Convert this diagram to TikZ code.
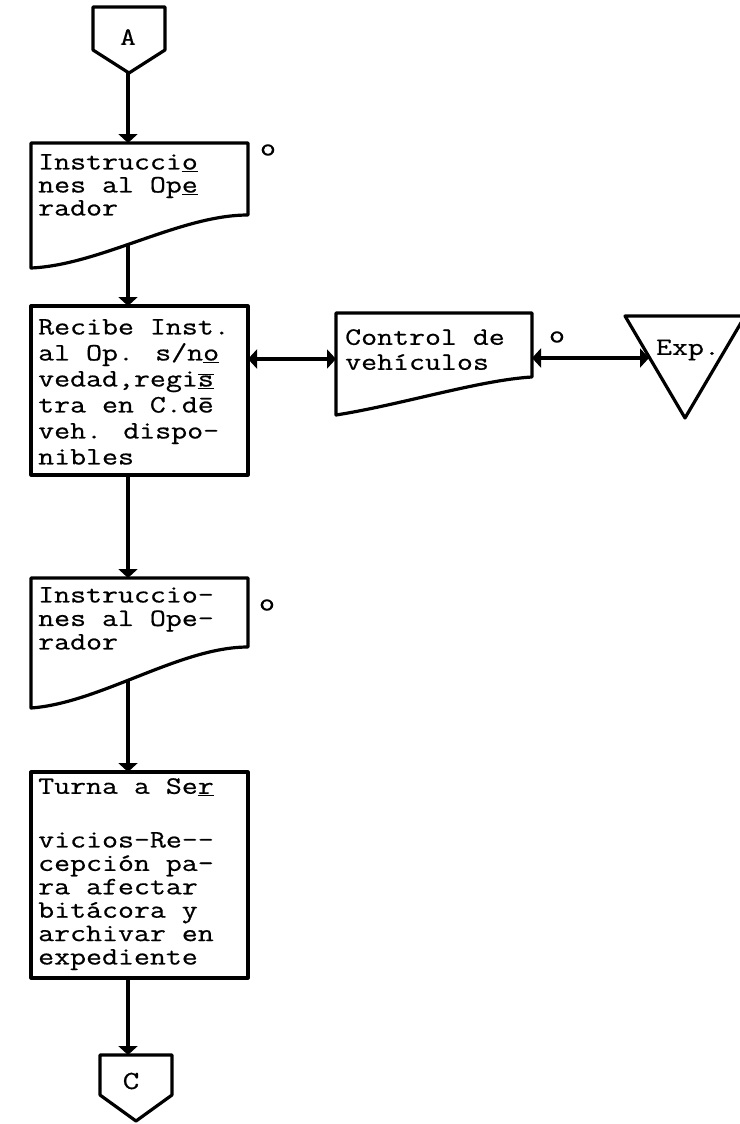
\documentclass[tikz,border=0pt]{standalone}
\usepackage{fontspec}
\newfontfamily\twfont{Latin Modern Mono}[FakeStretch=1.24,FakeBold=0.6]
\usetikzlibrary{arrows.meta}
\newcommand\uln[1]{\underline{#1}}
\newcommand\twsize[2]{\twfont\fontsize{#1}{#2}\selectfont\lineskiplimit=-100pt\relax}
\begin{document}
\begin{tikzpicture}[x=1pt,y=-1pt,
 outline/.style={draw=black, line width=3.2pt, line join=round},
 conn/.style={line width=3.2pt, -{Triangle[width=19pt,length=9pt]}},
 bicon/.style={line width=3.2pt, {Triangle[width=19pt,length=9pt]}-{Triangle[width=19pt,length=9pt]}},
 body/.style={anchor=north west, inner sep=0pt, align=left, font=\twsize{25}{23}},
 note/.style={inner sep=0pt, font=\twsize{25}{25}}]
\useasboundingbox (0,0) rectangle (739,1124);

% connector A
\draw[outline] (93,7) -- (165,7) -- (165,50) -- (129,73) -- (93,50) -- cycle;
\node[note] (lA) at (128,37) {A};
\coordinate (Aout) at (128,73);

% box 1
\draw[outline] (31,143) -- (248,143) -- (248,215) .. controls (180,215) and (100,265) .. (31,268) -- cycle;
\node[body] (t1) at (38,154) {Instrucci\uln{o}\\nes al Op\uln{e}\\rador};
\node[note] (o1) at (268,150) {o};
\coordinate (b1in) at (128,143);
\coordinate (b1out) at (128,244);

% box 2
\draw[outline] (31,306) rectangle (248,475);
\node[body, font=\twsize{25}{26}] (t2) at (38,319) {Recibe Inst.\\al Op. s/n\uln{o}\\vedad,regi\uln{$\overline{\hbox{s}}$}\\tra en C.d\={e}\\veh. dispo-\\nibles};
\coordinate (b2in) at (128,306);
\coordinate (b2out) at (128,475);
\coordinate (b2r) at (248,359);

% control de vehiculos
\draw[outline] (336,313) -- (532,313) -- (532,377) .. controls (480,380) and (400,405) .. (336,415) -- cycle;
\node[body, font=\twsize{25}{25}] (tc) at (345,329) {Control de\\vehículos};
\node[note] (oc) at (557,337) {o};
\coordinate (cl) at (336,359);
\coordinate (cr) at (532,358);

% archive triangle
\draw[outline] (625,316) -- (745,316) -- (685,418) -- cycle;
\node[note] (ex) at (688,350) {Exp.};
\coordinate (exl) at (649,358);

% box 3
\draw[outline] (31,578) -- (248,578) -- (248,647) .. controls (180,647) and (100,703) .. (31,708) -- cycle;
\node[body, font=\twsize{25}{23.5}] (t3) at (38,587) {Instruccio-\\nes al Ope-\\rador};
\node[note] (o3) at (267,605) {o};
\coordinate (b3in) at (128,578);
\coordinate (b3out) at (128,680);

% box 4
\draw[outline] (31,772) rectangle (248,978);
\node[body] (t4a) at (38,778) {Turna a Se\uln{r}};
\node[body, font=\twsize{25}{23.4}] (t4b) at (38,832) {vicios-Re--\\cepción pa-\\ra afectar\\bitácora y\\archivar en\\expediente};
\coordinate (b4in) at (128,772);
\coordinate (b4out) at (128,978);

% connector C
\draw[outline] (100,1055) -- (172,1055) -- (172,1095) -- (136,1121) -- (100,1095) -- cycle;
\node[note, font=\twsize{26}{26}\bfseries] (lC) at (131,1081) {C};
\coordinate (Cin) at (128,1055);

% connectors
\draw[conn] (Aout) -- (b1in);
\draw[conn] (b1out) -- (b2in);
\draw[conn] (b2out) -- (b3in);
\draw[conn] (b3out) -- (b4in);
\draw[conn] (b4out) -- (Cin);
\draw[bicon] (b2r) -- (cl);
\draw[bicon] (cr) -- (exl);
\end{tikzpicture}
\end{document}
